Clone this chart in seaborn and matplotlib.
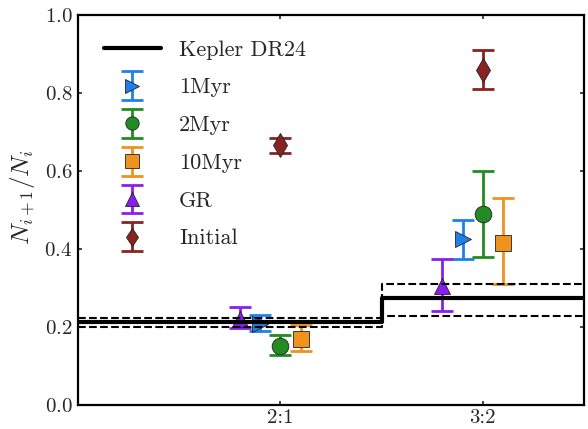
import matplotlib
matplotlib.use("Agg")
import matplotlib.pyplot as plt
import seaborn as sns
import numpy as np
from matplotlib.legend_handler import HandlerErrorbar

# ---------------- data ----------------
resonances = ["2:1", "3:2"]
series_names = ["1Myr", "2Myr", "10Myr", "GR", "Initial"]

val_1myr = [0.208, 0.425]
lo_1myr = [0.189, 0.375]
hi_1myr = [0.230, 0.474]

val_2myr = [0.152, 0.488]
lo_2myr = [0.127, 0.378]
hi_2myr = [0.179, 0.599]

val_10myr = [0.169, 0.416]
lo_10myr = [0.139, 0.309]
hi_10myr = [0.204, 0.529]

val_gr = [0.221, 0.305]
lo_gr = [0.198, 0.241]
hi_gr = [0.250, 0.375]

val_init = [0.665, 0.858]
lo_init = [0.646, 0.808]
hi_init = [0.685, 0.909]

kepler_mid = [0.212, 0.273]
kepler_lo = [0.201, 0.229]
kepler_hi = [0.223, 0.311]
kepler_label = "Kepler DR24"

# ---------------- style ----------------
sns.set_style("ticks")
plt.rcParams["font.family"] = ["cmr10", "DejaVu Serif"]
plt.rcParams["mathtext.fontset"] = "cm"
plt.rcParams["axes.formatter.use_mathtext"] = True
plt.rcParams["axes.unicode_minus"] = False

styles = {
    "1Myr": dict(color="#1E80E8", marker=">", off=-0.1),
    "2Myr": dict(color="#228B22", marker="o", off=0.0),
    "10Myr": dict(color="#F0921E", marker="s", off=0.1),
    "GR": dict(color="#8A1EF0", marker="^", off=-0.2),
    "Initial": dict(color="#8B2222", marker="d", off=0.0),
}
data = {
    "1Myr": (val_1myr, lo_1myr, hi_1myr),
    "2Myr": (val_2myr, lo_2myr, hi_2myr),
    "10Myr": (val_10myr, lo_10myr, hi_10myr),
    "GR": (val_gr, lo_gr, hi_gr),
    "Initial": (val_init, lo_init, hi_init),
}

fig = plt.figure(figsize=(5.88, 4.29), dpi=100)
ax = fig.add_axes([78 / 588, 24 / 429, (584 - 78) / 588, (405 - 14.5) / 429])

xpos = np.arange(len(resonances))
handles = {}
for name in series_names:
    v, lo, hi = (np.array(a) for a in data[name])
    st = styles[name]
    h = ax.errorbar(xpos + st["off"], v, yerr=[v - lo, hi - v],
                    fmt=st["marker"], color=st["color"], ms=12,
                    mec="#222222", elinewidth=2, capsize=8,
                    capthick=2, label=name, zorder=2)
    h[0].set_markeredgewidth(0.6)
    handles[name] = h

xlim = (-1.0, 1.5)
edges = np.array([xlim[0], 0.5, xlim[1]])
for arr, ls, lw in [(kepler_mid, "-", 3), (kepler_lo, "--", 1.5), (kepler_hi, "--", 1.5)]:
    yy = np.append(arr, arr[-1])
    sns.lineplot(x=edges, y=yy, ax=ax, color="k", lw=lw, ls=ls,
                 drawstyle="steps-post", estimator=None, sort=False,
                 zorder=3, legend=False)
kline = ax.get_lines()[-3]

ax.set_xlim(*xlim)
ax.set_ylim(0, 1.0)
ax.set_xticks(xpos)
ax.set_xticklabels(resonances)
ax.set_yticks(np.arange(0, 1.01, 0.2))
ax.set_ylabel(r"$N_{i+1}/N_i$", fontsize=18)
ax.yaxis.set_label_coords(-0.081, 0.533)
ax.tick_params(direction="in", length=3, width=1.2, top=True, right=True,
               labelsize=15, pad=4)
ax.tick_params(axis="x", pad=3)
for s in ax.spines.values():
    s.set_linewidth(1.6)
    s.set_color("k")

hl = [kline] + [handles[n] for n in series_names]
ll = [kepler_label] + series_names
ax.legend(hl, ll, loc="upper left", frameon=False, fontsize=16,
          handlelength=2.6, handletextpad=0.8, numpoints=1, markerscale=0.8,
          labelspacing=0.82, borderaxespad=0.75,
          handler_map={type(handles["1Myr"]): HandlerErrorbar(yerr_size=0.65)})

fig.savefig("out.png", dpi=100)
